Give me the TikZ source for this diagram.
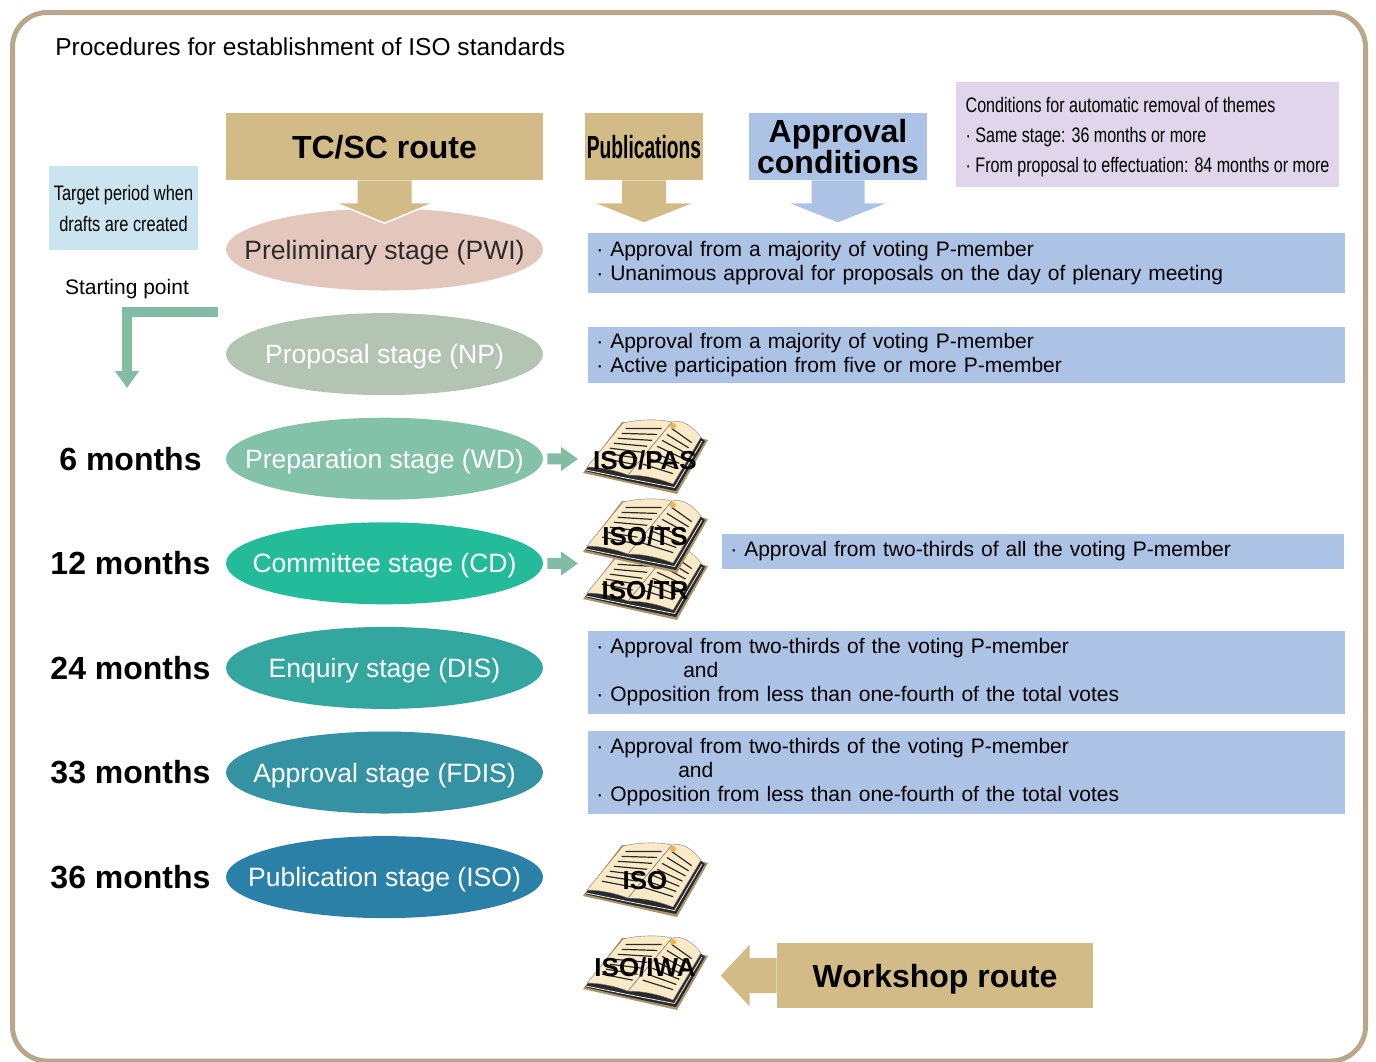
\documentclass[tikz,border=0pt]{standalone}
\usepackage{fontspec}
\setmainfont{Liberation Sans}
\newfontfamily\narrowfont[FakeStretch=0.78]{Liberation Sans}
\newfontfamily\remfont[FakeStretch=0.765]{Liberation Sans}
\newfontfamily\pubfont[FakeStretch=0.6]{Liberation Sans}
\usetikzlibrary{arrows.meta, shapes.geometric, positioning}

\definecolor{framec}{HTML}{B8A78A}
\definecolor{routec}{HTML}{D3BB88}
\definecolor{approvc}{HTML}{ADC3E5}
\definecolor{removc}{HTML}{E0D5EA}
\definecolor{targetc}{HTML}{CBE5F0}
\definecolor{arrowc}{HTML}{82BCA5}
\definecolor{pwic}{HTML}{E3C7BD}
\definecolor{npc}{HTML}{B3C4B2}
\definecolor{wdc}{HTML}{84C1A9}
\definecolor{cdc}{HTML}{24BB9B}
\definecolor{disc}{HTML}{33A6A0}
\definecolor{fdisc}{HTML}{3592A3}
\definecolor{isoc}{HTML}{2B80A8}
\definecolor{pagec}{HTML}{FBEAC8}
\definecolor{coverc}{HTML}{A8946A}
\definecolor{inkc}{HTML}{2A2A2A}
\definecolor{bookmarkc}{HTML}{F2B24E}

\begin{document}
\begin{tikzpicture}[
            x = 0.75pt, y = -0.75pt, % one unit is one pixel, y goes down
            > = {Triangle[length=12.75pt, width=17.25pt]}, % arrow head style
            node distance = 78.45pt, % distance between stages
            font = \fontsize{15.75}{18}\selectfont,
            book/.pic = {
                \fill[coverc] (-62,16) -- (-23,-35) -- (27,-35) -- (52,-20) -- (63,-17) -- (32,37) -- (-17,26) -- cycle;
                \fill[inkc] (-60,14) -- (-22,-34) -- (27,-35) -- (55,-20) -- (60,-16) -- (31,34) -- (-17,24) -- cycle;
                \draw[white!85!gray, line width=0.6pt] (-59,13) -- (-17,21.5) -- (29.5,30.5) -- (57,-16);
                \filldraw[pagec, draw=inkc!60, line width=0.3pt] (-58,10) -- (-22,-34) .. controls (-5,-38) and (15,-38) .. (27,-35) -- (-17,18) .. controls (-30,13) and (-45,10) .. (-58,10) -- cycle;
                \filldraw[pagec, draw=inkc!60, line width=0.3pt] (27,-35) .. controls (38,-38) and (48,-30) .. (56,-20) -- (28,27) .. controls (10,20) and (-5,18) .. (-17,18) -- cycle;
                \foreach \t in {0.12,0.23,...,0.80} {
                    \draw[inkc, line width=0.9pt] ({-22-36*\t+7},{-34+45*\t}) -- ({27-44*\t-5},{-35+54*\t});
                    \draw[inkc, line width=0.9pt] ({27-44*\t+5},{-35+54*\t}) -- ({56-28*\t-6},{-20+47*\t});
                }
                \draw[inkc!50, line width=0.4pt] (27,-35) -- (-17,18);
                \fill[bookmarkc] (28,-31) circle (3);
            }
        ]

        \tikzstyle{stage}=[
            ellipse,
            minimum width = 237.75pt,
            minimum height = 61.5pt,
            inner xsep = -34pt,
            inner ysep = 0pt,
            text depth = 0pt,
            text = white,
            font = \fontsize{19.9}{22}\selectfont
        ]
        \tikzstyle{route}=[fill = routec, inner sep = 0pt, align = center, text depth = 0pt,
            font = \bfseries\fontsize{24}{21}\selectfont]
        \tikzstyle{cond}=[fill = approvc, anchor = west, align = left,
            inner xsep = 6pt, inner ysep = 0pt]
        \tikzstyle{months}=[font = \bfseries\fontsize{24}{26}\selectfont]
        \tikzstyle{booklabel}=[inner sep = 0pt, font = \bfseries\fontsize{19.5}{22}\selectfont]
        \tikzstyle{greenarrow}=[->, draw = arrowc, line width = 8.25pt]

        \useasboundingbox (0,0) rectangle (1376,1061);
        \draw[framec, line width=3.75pt, rounded corners=26pt] (12.5,12.5) rectangle (1365.5,1061);

        \node[anchor=west, inner sep=0pt, font=\fontsize{18.4}{20}\selectfont] (title) at (55,47) {Procedures for establishment of ISO standards};

        % stages
        \node[stage, fill=pwic, text=inkc] (pwi) at (384.5,249.5) {Preliminary stage (PWI)};
        \node[stage, fill=npc] (np) [below of=pwi] {Proposal stage (NP)};
        \node[stage, fill=wdc] (wd) [below of=np] {Preparation stage (WD)};
        \node[stage, fill=cdc] (cd) [below of=wd] {Committee stage (CD)};
        \node[stage, fill=disc] (dis) [below of=cd] {Enquiry stage (DIS)};
        \node[stage, fill=fdisc] (fdis) [below of=dis] {Approval stage (FDIS)};
        \node[stage, fill=isoc] (iso) [below of=fdis] {Publication stage (ISO)};

        \node[months] (m6) [left of=wd, node distance=190.5pt] {6 months};
        \node[months] (m12) [left of=cd, node distance=190.5pt] {12 months};
        \node[months] (m24) [left of=dis, node distance=190.5pt] {24 months};
        \node[months] (m33) [left of=fdis, node distance=190.5pt] {33 months};
        \node[months] (m36) [left of=iso, node distance=190.5pt] {36 months};

        % headings
        \node[route, minimum width=237.75pt, minimum height=50.25pt] (tcsc) at (384.5,146.5) {TC/SC route};
        \node[route, minimum width=88.5pt, minimum height=50.25pt,
            font=\pubfont\bfseries\fontsize{24}{24}\selectfont] (pubs) at (644,146.5) {Publications};
        \node[route, fill=approvc, minimum width=133.5pt, minimum height=50.25pt] (appr) at (838,146.5) {Approval\\conditions};

        \fill[routec] (tcsc.south) ++(-27,0) -- ++(0,23) -- ++(-20.5,0) -- ++(47.5,20) -- ++(47.5,-20) -- ++(-20.5,0) -- ++(0,-23) -- cycle;
        \draw[white, line width=1.1pt] (tcsc.south) ++(-48,23) -- ++(48,20) -- ++(48,-20);
        \fill[routec] (pubs.south) ++(-22,0) -- ++(0,23) -- ++(-26,0) -- ++(48,19) -- ++(48,-19) -- ++(-26,0) -- ++(0,-23) -- cycle;
        \fill[approvc] (appr.south) ++(-26.5,0) -- ++(0,23) -- ++(-21.5,0) -- ++(48,19) -- ++(48,-19) -- ++(-21.5,0) -- ++(0,-23) -- cycle;

        \node[fill=removc, inner xsep=7pt, inner ysep=0pt, minimum width=284.25pt, minimum height=78.75pt, align=left,
            text depth=0pt, font=\remfont\fontsize{15.75}{22.5}\selectfont] (removal) at (1147.5,134.5)
            {Conditions for automatic removal of themes\\
             · Same stage: 36 months or more\\
             · From proposal to effectuation: 84 months or more};

        \node[fill=targetc, inner xsep=2pt, inner ysep=0pt, minimum width=111.75pt, minimum height=63pt, align=center,
            font=\narrowfont\fontsize{15.75}{23.25}\selectfont] (target) at (123.5,208) {Target period when\\drafts are created};

        \node (start) at (127,289) {Starting point};
        \coordinate (sp1) at (218,312);
        \coordinate (sp2) at (127,388);
        \draw[greenarrow, line width=7.5pt] (sp1) -| (sp2);

        % approval conditions
        \node[cond, text width=555.75pt, minimum height=45pt] (c1) at (588,263)
            {· Approval from a majority of voting P-member\\
             · Unanimous approval for proposals on the day of plenary meeting};
        \node[cond, text width=555.75pt, minimum height=42pt] (c2) at (588,355)
            {· Approval from a majority of voting P-member\\
             · Active participation from five or more P-member};
        \node[cond, text width=454.5pt, minimum height=26.25pt] (c3) at (722,551.5)
            {· Approval from two-thirds of all the voting P-member};
        \node[cond, text width=555.75pt, minimum height=62.25pt] (c4) at (588,672)
            {· Approval from two-thirds of the voting P-member\\
             \hspace*{65.25pt}and\\
             · Opposition from less than one-fourth of the total votes};
        \node[cond, text width=555.75pt, minimum height=62.25pt] (c5) at (588,772)
            {· Approval from two-thirds of the voting P-member\\
             \hspace*{61.5pt}and\\
             · Opposition from less than one-fourth of the total votes};

        % publications
        \pic at (645,457) {book};
        \pic at (645,583) {book};
        \pic at (645,536) {book};
        \pic at (645,880) {book};
        \pic at (645,973) {book};
        \node[booklabel] (pas) at (645,460) {ISO/PAS};
        \node[booklabel] (ts) at (645,536) {ISO/TS};
        \node[booklabel] (tr) at (645,590) {ISO/TR};
        \node[booklabel] (isopub) at (645,881) {ISO};
        \node[booklabel] (iwa) at (645,967) {ISO/IWA};

        \coordinate (pasin) at (578,459);
        \coordinate (tsin) at (578,563.5);
        \draw[greenarrow, shorten <=3pt] (wd) -- (pasin);
        \draw[greenarrow, shorten <=3pt] (cd) -- (tsin);

        % workshop route
        \node[route, minimum width=237pt, minimum height=48.75pt] (ws) at (935,975.5) {Workshop route};
        \fill[routec] (ws.west) ++(0,-17.5) -- ++(-27,0) -- ++(0,-13.5) -- ++(-29,31) -- ++(29,31) -- ++(0,-13.5) -- ++(27,0) -- cycle;

    \end{tikzpicture}
\end{document}
